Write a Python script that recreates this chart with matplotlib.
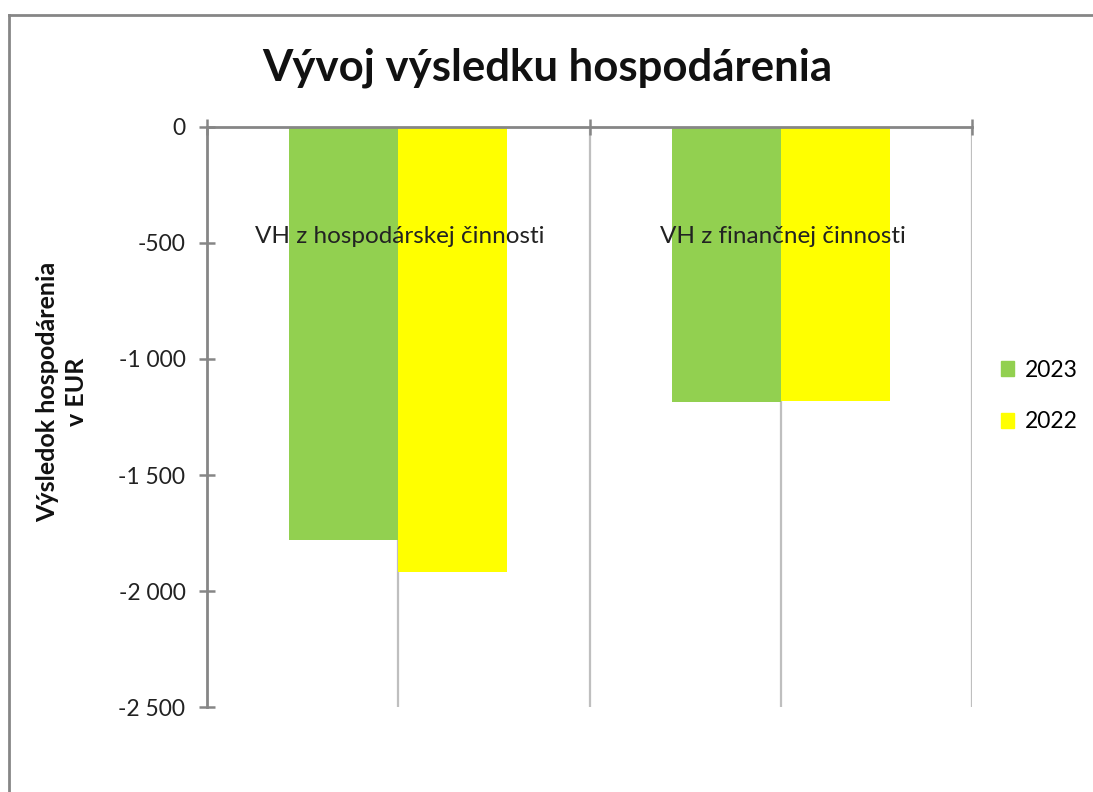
import matplotlib.pyplot as plt
from matplotlib.lines import Line2D
from matplotlib.patches import Patch
from matplotlib.ticker import FuncFormatter
import numpy as np

plt.rcParams['font.family'] = ['Lato', 'DejaVu Sans']

categories = ["VH z hospodárskej činnosti", "VH z finančnej činnosti"]
series = ["2023", "2022"]
vals_2023 = [-1780, -1185]
vals_2022 = [-1918, -1181]
colors = ["#92D050", "#FFFF00"]
yticks = [0, -500, -1000, -1500, -2000, -2500]

axis_col = "#868686"
grid_col = "#BFBFBF"

W, H = 1093, 792
fig = plt.figure(figsize=(W / 100, H / 100), dpi=100)
ax = fig.add_axes([207 / W, 1 - 707 / H, (972 - 207) / W, (707 - 127) / H])

x = np.arange(len(categories))
bw = 0.285
ax.bar(x - bw / 2, vals_2023, bw, color=colors[0], zorder=3)
ax.bar(x + bw / 2, vals_2022, bw, color=colors[1], zorder=3)

# vertical gridlines at half-category steps
for gx in [0, 0.5, 1, 1.5]:
    ax.axvline(gx, color=grid_col, lw=1.6, zorder=1)

ax.set_xlim(-0.5, 1.5)
ax.set_ylim(-2500, 0)
ax.set_yticks(yticks)
ax.yaxis.set_major_formatter(FuncFormatter(lambda v, p: f"{v:,.0f}".replace(",", " ")))
ax.tick_params(axis='y', direction='inout', length=11, width=1.8, color=axis_col,
               labelsize=16.5, labelcolor="#222222", pad=10)

ax.xaxis.tick_top()
ax.set_xticks([-0.5, 0.5, 1.5])
ax.set_xticklabels([])
ax.tick_params(axis='x', direction='inout', length=11, width=1.8, color=axis_col)

for s in ["bottom", "right"]:
    ax.spines[s].set_visible(False)
for s in ["top", "left"]:
    ax.spines[s].set_color(axis_col)
    ax.spines[s].set_linewidth(2)
    ax.spines[s].set_zorder(4)

for xi, lab in zip(x, categories):
    ax.text(xi + 0.005, -474, lab, ha='center', va='center', fontsize=17.5, color="#222222", zorder=5)

fig.text(547 / W, 1 - 68 / H, "Vývoj výsledku hospodárenia", ha='center', va='center',
         fontsize=31.5, fontweight='bold', color="#111111")
fig.text(62 / W, 1 - 392 / H, "Výsledok hospodárenia\nv EUR", ha='center', va='center',
         rotation=90, fontsize=18, fontweight='bold', linespacing=1.3, color="#111111")

handles = [Patch(color=c, label=s) for c, s in zip(colors, series)]
fig.legend(handles=handles, loc='center left', bbox_to_anchor=(980 / W, 1 - 396 / H),
           frameon=False, fontsize=16.5, handlelength=0.6, handleheight=0.6,
           handletextpad=0.45, labelspacing=1.35)

# chart border (top and left edges visible)
fig.add_artist(Line2D([9 / W, 1], [1 - 15 / H, 1 - 15 / H], color=axis_col, lw=2))
fig.add_artist(Line2D([9 / W, 9 / W], [0, 1 - 15 / H], color=axis_col, lw=2))

fig.savefig("out.png", dpi=100)
